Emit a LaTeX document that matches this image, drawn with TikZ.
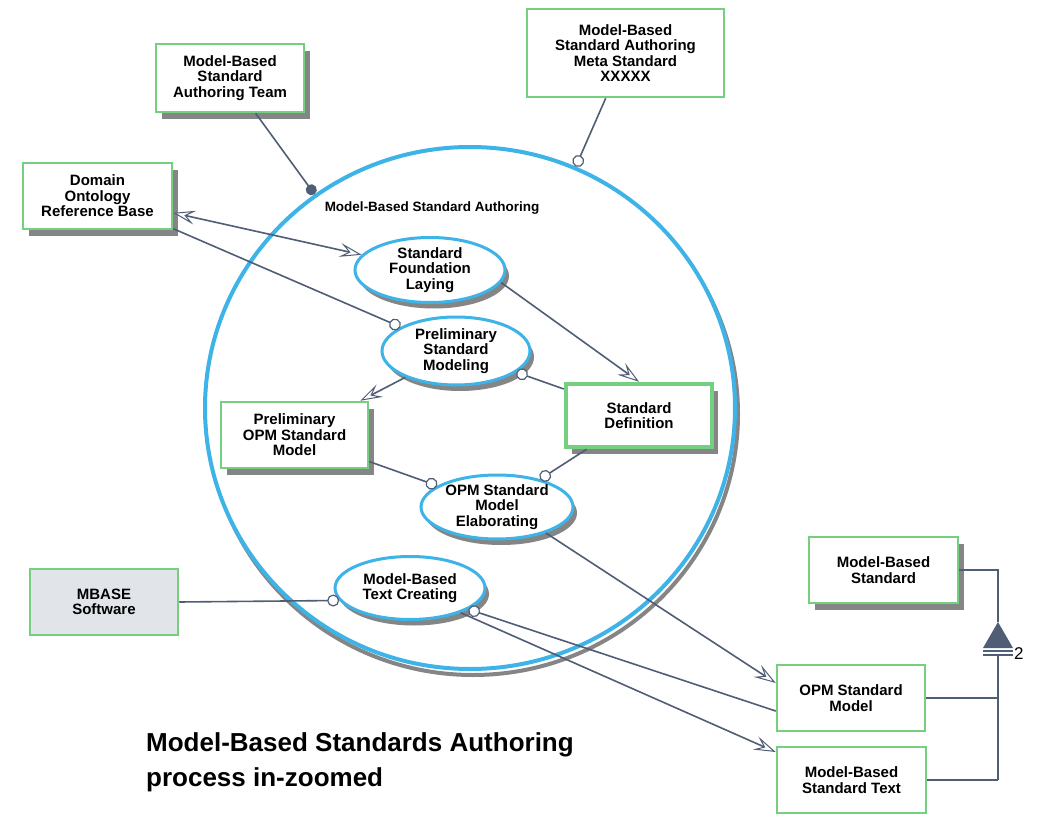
\documentclass[tikz,border=0pt]{standalone}
\usepackage{fontspec}
\setmainfont{Liberation Sans}
\usetikzlibrary{arrows.meta,shapes.geometric,shadows}
\definecolor{boxgreen}{HTML}{74D07E}
\definecolor{opmblue}{HTML}{3DB3E8}
\definecolor{linkc}{HTML}{4F5D75}
\definecolor{mbgray}{HTML}{E1E4E8}
\definecolor{shadowc}{HTML}{858585}
\begin{document}
\begin{tikzpicture}[x=1pt,y=-1pt,
  txt/.style={font=\bfseries\fontsize{15}{15.5}\selectfont},
  obj/.style={txt, draw=boxgreen, line width=2.5pt, fill=white, rectangle, align=center, inner sep=0pt},
  objsh/.style={obj, drop shadow={shadow xshift=6pt, shadow yshift=-7pt, fill=shadowc, opacity=1}},
  proc/.style={txt, draw=opmblue, line width=3pt, fill=white, ellipse, align=center, inner sep=0pt,
    drop shadow={shadow xshift=4pt, shadow yshift=-6pt, fill=shadowc, opacity=1}},
  link/.style={draw=linkc, line width=1.6pt},
  opmtip/.tip={Stealth[length=22pt,width=14pt,inset=9pt,fill=white,line width=1pt]},
  res/.style={link, -opmtip},
  inst/.style={link, -{Circle[length=12pt,fill=white,line width=1.2pt]}},
  insts/.style={link, {Circle[length=12pt,fill=white,line width=1.2pt]}-},
  agent/.style={link, -{Circle[length=11pt]}}
]
\useasboundingbox (0,0) rectangle (1050,821);

% in-zoomed process circle
\node[ellipse, draw=shadowc, line width=4pt, minimum width=530, minimum height=522] (mbsash) at (473,414) {};
\node[ellipse, fill=white, minimum width=528, minimum height=520] (mbsafill) at (470,408) {};
\node[ellipse, draw=opmblue, line width=4pt, minimum width=530, minimum height=522] (mbsa) at (470,408) {};
\node[txt, font=\bfseries\fontsize{13.5}{14}\selectfont] (mbsalabel) at (432,208) {Model-Based Standard Authoring};

% objects
\node[objsh, minimum width=148, minimum height=68] (team) at (230,78) {Model-Based\\Standard\\Authoring Team};
\node[obj, minimum width=197, minimum height=88] (meta) at (625.5,53) {Model-Based\\Standard Authoring\\Meta Standard\\XXXXX};
\node[objsh, minimum width=149, minimum height=66] (domain) at (97.5,196) {Domain\\Ontology\\Reference Base};
\node[objsh, minimum width=147, minimum height=66] (prelimOPM) at (294.5,435) {Preliminary\\OPM Standard\\Model};
\node[objsh, line width=4.5pt, minimum width=146, minimum height=63] (stddef) at (639,415.5) {Standard\\Definition};
\node[obj, fill=mbgray, minimum width=148, minimum height=66] (mbase) at (104,602) {MBASE\\Software};
\node[objsh, minimum width=149, minimum height=66] (mbs) at (883.5,570) {Model-Based\\Standard};
\node[obj, minimum width=148, minimum height=66] (opmsm) at (851,698) {OPM Standard\\Model};
\node[obj, minimum width=149, minimum height=66] (mbst) at (851.5,780) {Model-Based\\Standard Text};

% processes
\node[proc, minimum width=150, minimum height=65] (sfl) at (430,270) {Standard\\Foundation\\Laying};
\node[proc, minimum width=148, minimum height=68] (psm) at (456,351) {Preliminary\\Standard\\Modeling};
\node[proc, minimum width=152, minimum height=64] (osme) at (497,507) {OPM Standard\\Model\\Elaborating};
\node[proc, minimum width=150, minimum height=63] (mbtc) at (410,588) {Model-Based\\Text Creating};

% links
\draw[agent] (team) -- (mbsa);
\draw[inst] (meta) -- (mbsa);
\draw[link, opmtip-opmtip] (domain) -- (sfl);
\draw[inst] (domain) -- (psm);
\draw[res] (sfl.-10) -- (stddef.north);
\draw[res] (psm) -- (prelimOPM);
\draw[insts] (psm) -- (stddef);
\draw[inst] (prelimOPM) -- (osme);
\draw[inst] (stddef) -- (osme);
\draw[res] (osme.-28) -- ([yshift=15pt]opmsm.west);
\draw[inst] (mbase.east) -- (mbtc.190);
\draw[insts] (mbtc.-20) -- ([yshift=-13pt]opmsm.west);
\draw[res] (mbtc.-26) -- ([yshift=28pt]mbst.west);

% generalization
\coordinate (gA) at (998,570);
\coordinate (gT) at (998,622);
\coordinate (gL) at (983,648);
\coordinate (gR) at (1013,648);
\coordinate (gB) at (998,655);
\coordinate (gM) at (998,698);
\coordinate (gE) at (998,780);
\draw[link] (mbs.east) -- (gA) -- (gT);
\fill[linkc] (gT) -- (gL) -- (gR) -- cycle;
\draw[link, line width=1.3pt] (983,651) -- (1013,651) (983,655) -- (1013,655);
\draw[link] (gB) -- (gE);
\draw[link] (opmsm.east) -- (gM);
\draw[link] (mbst.east) -- (gE);
\node[font=\fontsize{17}{17}\selectfont, anchor=west, inner sep=0pt] (two) at (1014,654) {2};

% title
\node[font=\bfseries\fontsize{26}{35}\selectfont, anchor=west, align=left, inner sep=0pt] (title) at (146,762) {Model-Based Standards Authoring\\process in-zoomed};
\end{tikzpicture}
\end{document}
